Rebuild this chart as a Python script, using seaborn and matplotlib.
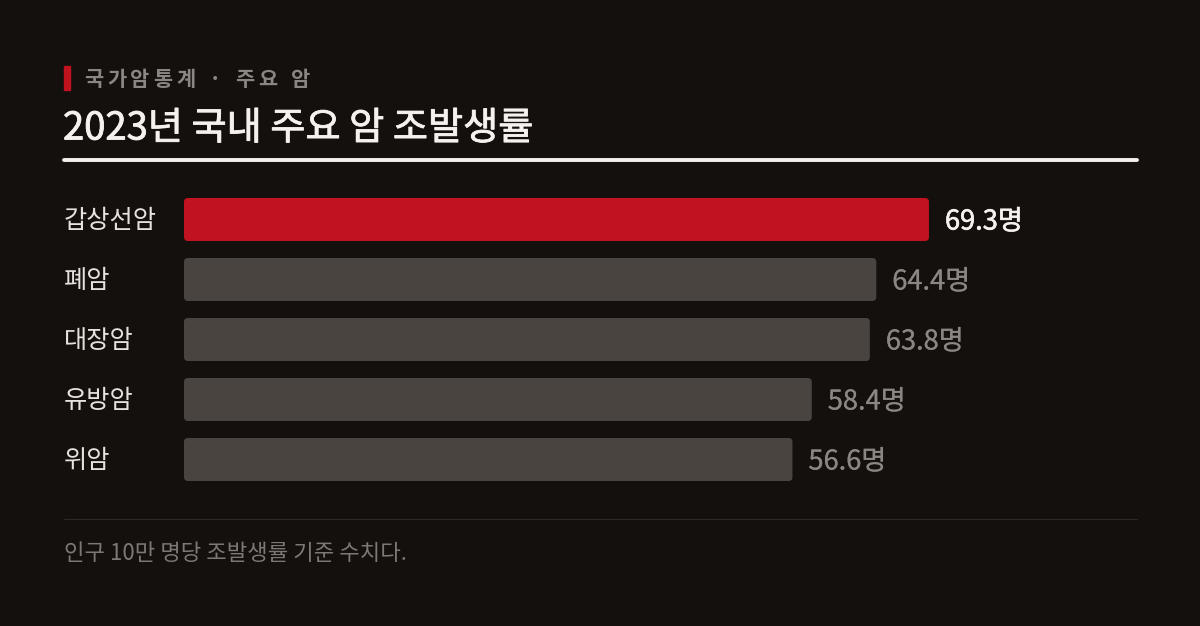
import matplotlib
matplotlib.use("Agg")
import matplotlib.pyplot as plt
import matplotlib.patheffects as pe
from matplotlib.patches import Rectangle, FancyBboxPatch
from matplotlib.lines import Line2D
import seaborn as sns
import pandas as pd

# data
cancers = ["갑상선암", "폐암", "대장암", "유방암", "위암"]
rates = [69.3, 64.4, 63.8, 58.4, 56.6]
value_labels = ["69.3명", "64.4명", "63.8명", "58.4명", "56.6명"]

kicker = "국가암통계 · 주요 암"
title = "2023년 국내 주요 암 조발생률"
note = "인구 10만 명당 조발생률 기준 수치다."

BG = "#13100e"
RED = "#c0121f"
GRAY_BAR = "#4a4440"
GRAY_TXT = "#8b8682"
WHITE = "#f5f2ee"

sns.set_theme(style="white")
plt.rcParams["font.family"] = ["Noto Sans CJK KR", "DejaVu Sans"]

W, H = 1200, 626
fig = plt.figure(figsize=(W / 100, H / 100), dpi=100, facecolor=BG)


def fx(px):
    return px / W


def fy(px):
    return 1 - px / H


def thicker(color, lw):
    # slightly heavier than Regular, lighter than Bold
    return [pe.withStroke(linewidth=lw, foreground=color)]


ax = fig.add_axes([fx(184), fy(489.5), fx(1137) - fx(184), fy(189.5) - fy(489.5)])
ax.set_facecolor(BG)

df = pd.DataFrame({"cancer": cancers, "rate": rates})
palette = {c: (RED if i == 0 else GRAY_BAR) for i, c in enumerate(cancers)}
sns.barplot(data=df, x="rate", y="cancer", hue="cancer", palette=palette,
            legend=False, width=0.717, saturation=1, ax=ax)

ax.set_xlim(0, (1137 - 184) / 10.75)
ax.set_ylim(4.5, -0.5)

# swap rectangles for rounded ones
x_per_px = 1 / 10.75
y_per_px = 1 / 60
for p in list(ax.patches):
    x, y, w, h = p.get_x(), p.get_y(), p.get_width(), p.get_height()
    fb = FancyBboxPatch((x, y), w, h,
                        boxstyle=f"round,pad=0,rounding_size={4 * x_per_px}",
                        mutation_aspect=y_per_px / x_per_px,
                        facecolor=p.get_facecolor(), edgecolor="none")
    p.remove()
    ax.add_patch(fb)

for i, (v, lab) in enumerate(zip(rates, value_labels)):
    first = i == 0
    col = WHITE if first else GRAY_TXT
    ax.annotate(lab, xy=(v, i), xytext=(11.5, -1.8), textcoords="offset points",
                ha="left", va="center", fontsize=19.6, color=col,
                path_effects=thicker(col, 0.45 if first else 0.15))

ax.set_xlabel("")
ax.set_ylabel("")
ax.set_xticks([])
ax.set_yticks([])
for s in ax.spines.values():
    s.set_visible(False)

# category labels at left
for i, c in enumerate(cancers):
    fig.text(fx(64), fy(221 + 60 * i), c, ha="left", va="center",
             fontsize=18.2, color="#e6e2de")

# header
fig.patches.append(Rectangle((fx(64), fy(90)), fx(6), fy(66) - fy(90),
                             transform=fig.transFigure, color=RED))

# kicker with letter spacing, one glyph at a time
renderer = fig.canvas.get_renderer()
cur = 84
for ch in kicker:
    t = fig.text(fx(cur), fy(79), ch, ha="left", va="center", fontsize=15,
                 color=GRAY_TXT, fontweight="bold")
    if ch == " ":
        adv = 6
    else:
        adv = t.get_window_extent(renderer).width
    cur += adv + 3.9

fig.text(fx(63), fy(129), title, ha="left", va="center", fontsize=27.5,
         color=WHITE, path_effects=thicker(WHITE, 0.6))
fig.lines.append(Line2D([fx(64), fx(1137)], [fy(159.5), fy(159.5)],
                        transform=fig.transFigure, color=WHITE, lw=2.8))

# footer
fig.lines.append(Line2D([fx(64), fx(1137)], [fy(518.5), fy(518.5)],
                        transform=fig.transFigure, color="#2c2825", lw=0.8))
fig.text(fx(64), fy(553), note, ha="left", va="center", fontsize=16,
         color="#7d7874", fontweight="light")

fig.savefig("out.png", dpi=100, facecolor=BG)
